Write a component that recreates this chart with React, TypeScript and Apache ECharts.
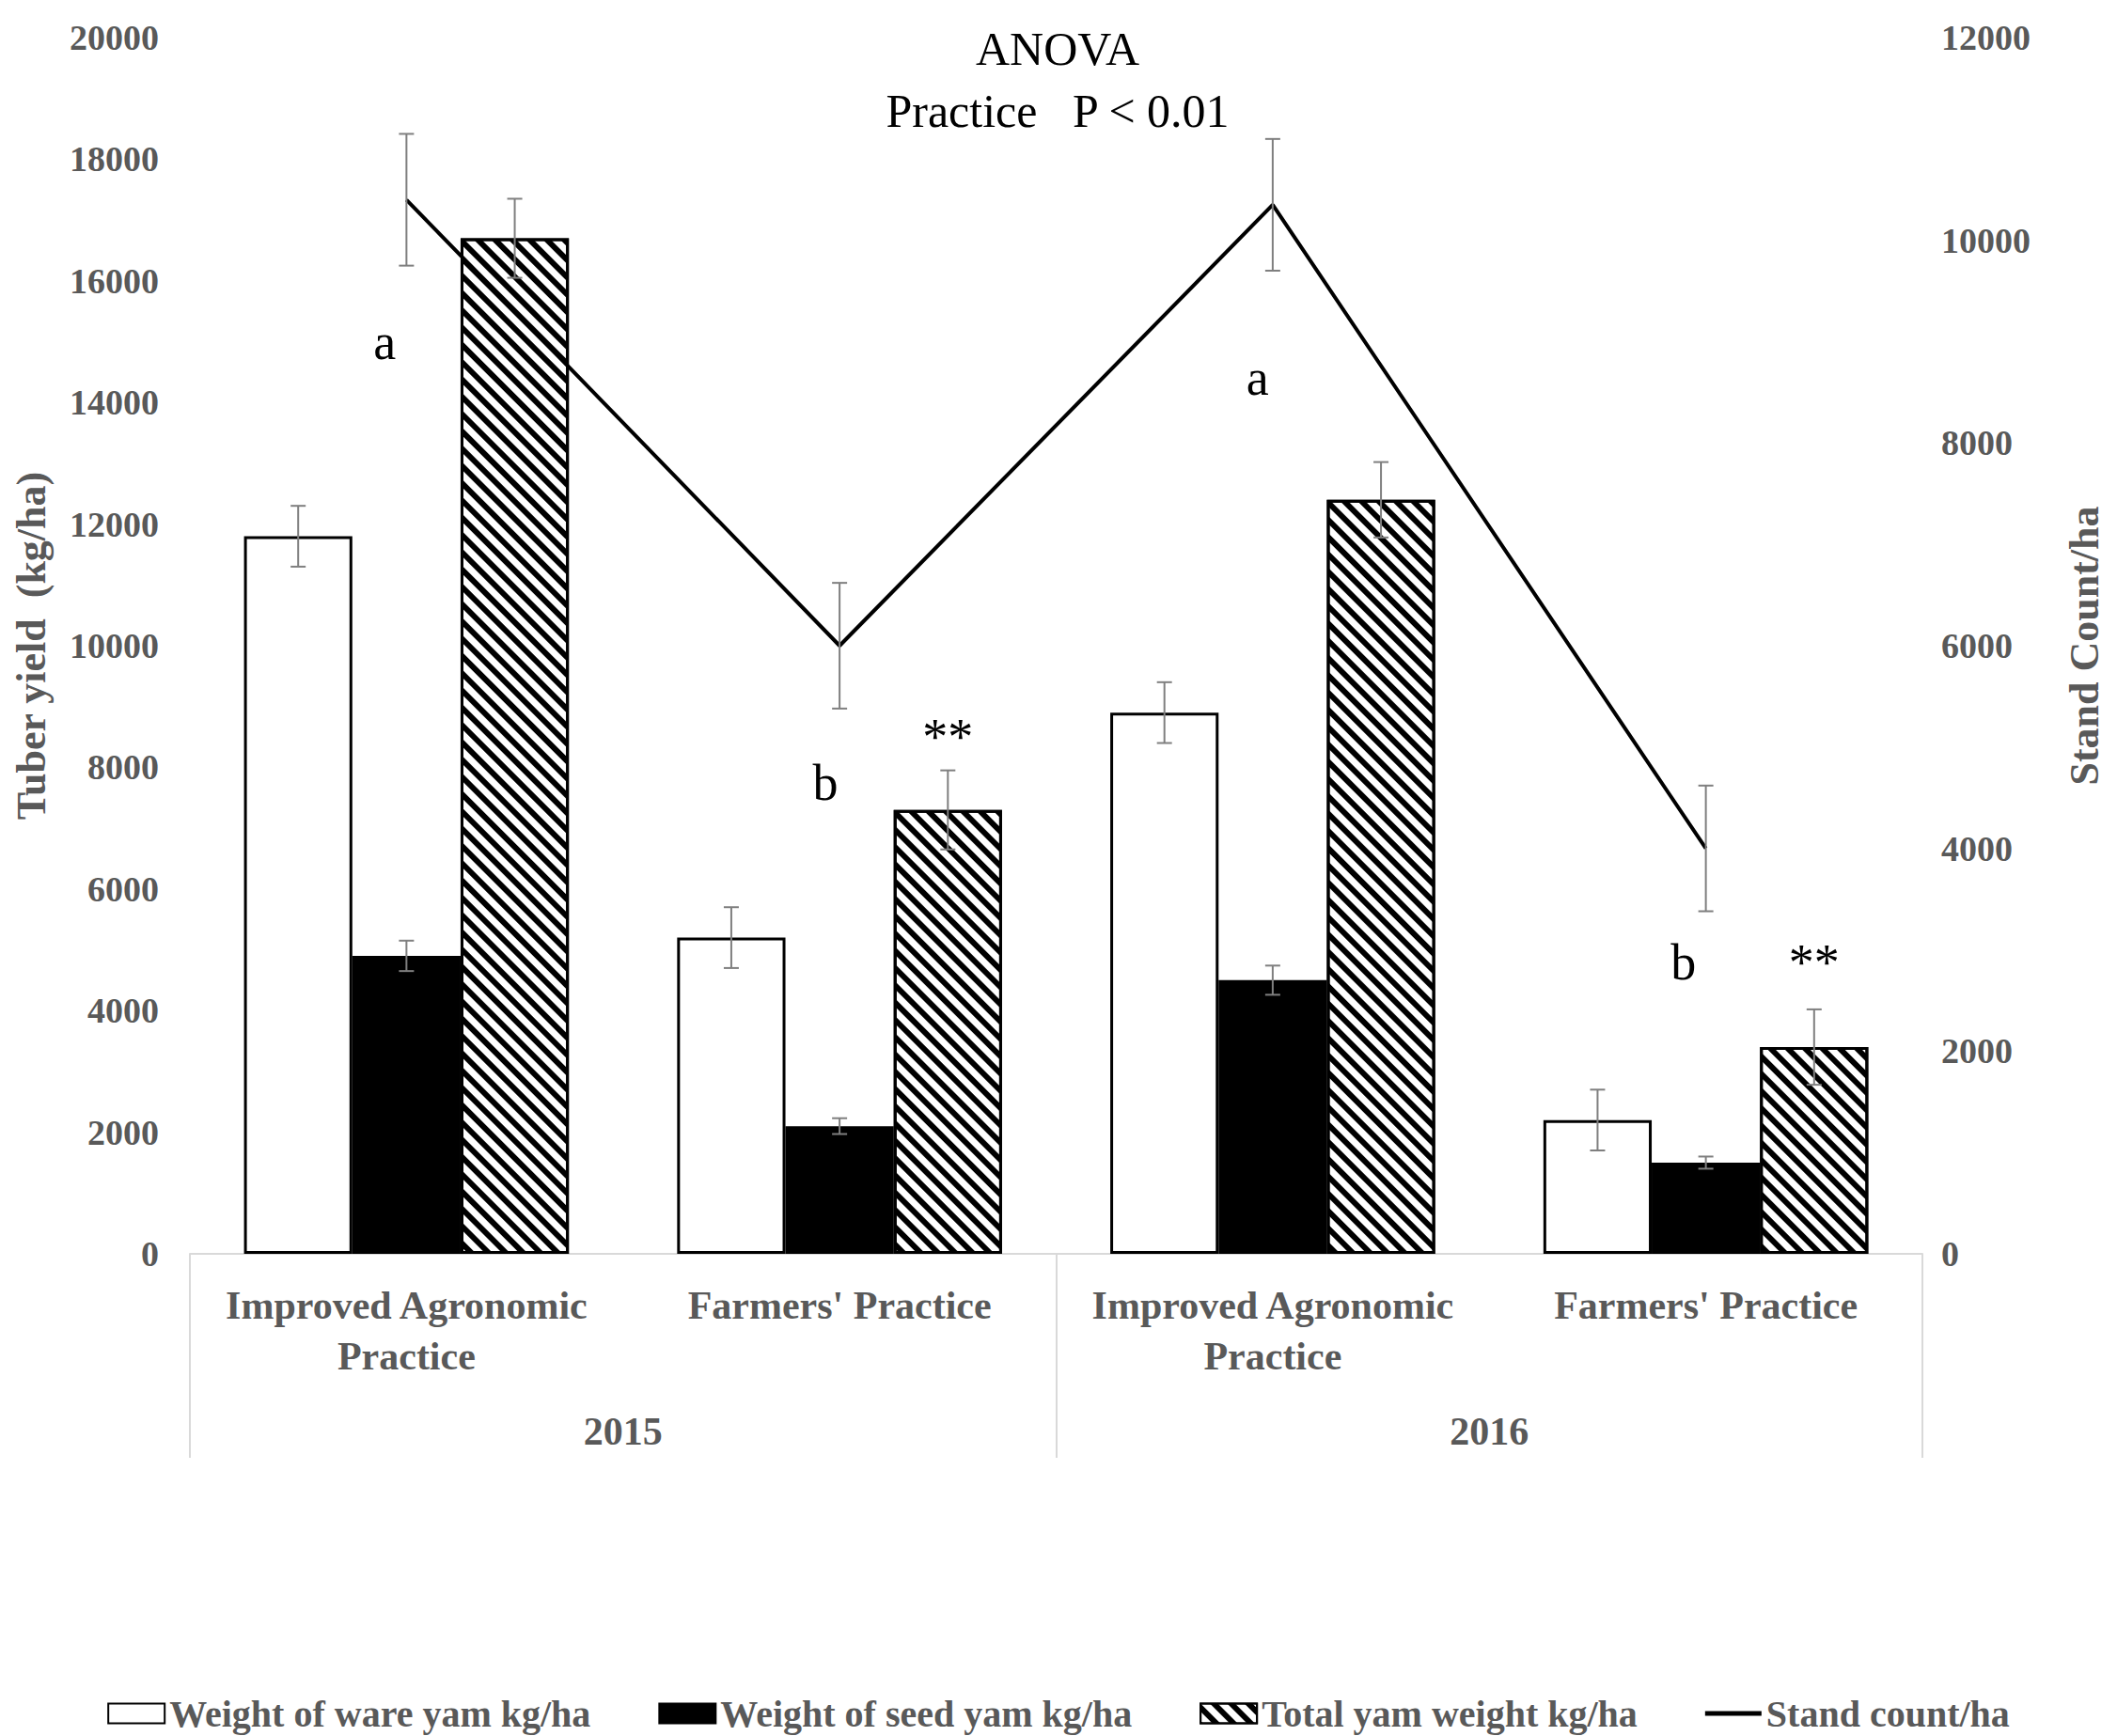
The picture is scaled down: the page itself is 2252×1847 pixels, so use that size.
import React, { useEffect, useRef } from "react";
import * as echarts from "echarts";

const FONT = "'Liberation Serif', 'Times New Roman', serif";
const GRAY = "#595959";
const LIGHT = "#d9d9d9";

// ---- data ----
const categories = [
  "Improved Agronomic\nPractice",
  "Farmers' Practice",
  "Improved Agronomic\nPractice",
  "Farmers' Practice",
];
const years = ["2015", "2016"];

const wareYam = [11800, 5200, 8900, 2200];
const wareErr = [500, 500, 500, 500];
const seedYam = [4900, 2100, 4500, 1500];
const seedErr = [250, 130, 240, 100];
const totalYam = [16700, 7300, 12400, 3400];
const totalErr = [650, 650, 620, 620];
const standCount = [10400, 6000, 10350, 4000];
const standErr = [650, 620, 650, 620];

const annotText = ["a", "b", "**", "a", "b", "**"];
const annotCat = [0, 1, 1, 2, 3, 3];
const annotValue = [15000, 7740, 8500, 14400, 4790, 4790];

// layout (fraction of category band, horizontal shift)
const annotShift = [-0.05, -0.033, 0.25, -0.035, -0.052, 0.25];
const barShift = [-0.25, 0, 0.25];

const seriesNames = [
  "Weight of ware yam kg/ha",
  "Weight of seed yam kg/ha",
  "Total yam weight kg/ha",
  "Stand count/ha",
];

function errData(vals: number[], errs: number[], shift: number) {
  return vals.map((v, i) => [i, v, errs[i], shift]);
}

function errRender(params: any, api: any) {
  const cat = api.value(0);
  const val = api.value(1);
  const err = api.value(2);
  const shift = api.value(3);
  const band = api.size([1, 0])[0];
  const x = api.coord([cat, val])[0] + shift * band;
  const yT = api.coord([cat, val + err])[1];
  const yB = api.coord([cat, val - err])[1];
  const cap = 8;
  const st = { stroke: "#7f7f7f", lineWidth: 2 };
  return {
    type: "group",
    children: [
      { type: "line", shape: { x1: x, y1: yT, x2: x, y2: yB }, style: st },
      { type: "line", shape: { x1: x - cap, y1: yT, x2: x + cap, y2: yT }, style: st },
      { type: "line", shape: { x1: x - cap, y1: yB, x2: x + cap, y2: yB }, style: st },
    ],
  };
}

export default function App() {
  const ref = useRef<HTMLDivElement>(null);
  useEffect(() => {
    if (!ref.current) return;
    const chart = echarts.init(ref.current, undefined, { renderer: "svg" });
    const axisLabelStyle = {
      fontFamily: FONT,
      fontWeight: "bold" as const,
      color: GRAY,
    };
    const plain = (v: number) => String(v);
    const option: any = {
      animation: false,
      backgroundColor: "#fff",
      title: {
        text: "ANOVA\nPractice   P < 0.01",
        left: 1120,
        top: 14,
        textAlign: "center",
        textStyle: {
          fontFamily: FONT,
          fontWeight: "normal",
          fontSize: 50,
          lineHeight: 66,
          color: "#000",
        },
      },
      legend: {
        data: [
          { name: seriesNames[0], icon: "rect" },
          { name: seriesNames[1], icon: "rect" },
          { name: seriesNames[2], icon: "rect" },
          { name: seriesNames[3], icon: "path://M0,0L60,0L60,5L0,5Z" },
        ],
        left: "center",
        top: 1798,
        itemWidth: 60,
        itemHeight: 21,
        itemGap: 72,
        textStyle: { ...axisLabelStyle, fontSize: 40 },
      },
      grid: { left: 202, right: 207, top: 40, bottom: 513, containLabel: false },
      xAxis: [
        {
          type: "category",
          data: categories,
          position: "bottom",
          axisLine: { show: true, lineStyle: { color: LIGHT, width: 2 } },
          axisTick: { show: false },
          axisLabel: {
            ...axisLabelStyle,
            interval: 0,
            fontSize: 42,
            lineHeight: 54,
            margin: 28,
          },
        },
        {
          type: "category",
          data: years,
          position: "bottom",
          offset: 0,
          axisLine: { show: false },
          axisTick: {
            show: true,
            length: 217,
            alignWithLabel: false,
            interval: 0,
            lineStyle: { color: LIGHT, width: 2 },
          },
          axisLabel: {
            ...axisLabelStyle,
            interval: 0,
            fontSize: 42,
            lineHeight: 54,
            margin: 162,
          },
        },
      ],
      yAxis: [
        {
          type: "value",
          min: 0,
          max: 20000,
          interval: 2000,
          position: "left",
          name: "Tuber yield  (kg/ha)",
          nameLocation: "middle",
          nameRotate: 90,
          nameGap: 147,
          nameTextStyle: { ...axisLabelStyle, fontSize: 44 },
          axisLine: { show: false },
          axisTick: { show: false },
          splitLine: { show: false },
          axisLabel: { ...axisLabelStyle, fontSize: 38, margin: 33, formatter: plain },
        },
        {
          type: "value",
          min: 0,
          max: 12000,
          interval: 2000,
          position: "right",
          name: "Stand Count/ha",
          nameLocation: "middle",
          nameRotate: 90,
          nameGap: 150,
          nameTextStyle: { ...axisLabelStyle, fontSize: 44 },
          axisLine: { show: false },
          axisTick: { show: false },
          splitLine: { show: false },
          axisLabel: { ...axisLabelStyle, fontSize: 38, margin: 20, formatter: plain },
        },
      ],
      series: [
        {
          name: seriesNames[0],
          type: "bar",
          data: wareYam,
          barGap: "0%",
          barCategoryGap: "25%",
          itemStyle: { color: "#ffffff", borderColor: "#000", borderWidth: 3 },
        },
        {
          name: seriesNames[1],
          type: "bar",
          data: seedYam,
          barGap: "0%",
          barCategoryGap: "25%",
          itemStyle: { color: "#000000", borderColor: "#000", borderWidth: 3 },
        },
        {
          name: seriesNames[2],
          type: "bar",
          data: totalYam,
          barGap: "0%",
          barCategoryGap: "25%",
          itemStyle: {
            color: "#ffffff",
            borderColor: "#000",
            borderWidth: 3,
            decal: {
              symbol: "rect",
              symbolSize: 1,
              color: "#000",
              dashArrayX: [1, 0],
              dashArrayY: [6, 7],
              rotation: Math.PI / 4,
            },
          },
        },
        {
          name: "err0",
          type: "custom",
          renderItem: errRender,
          data: errData(wareYam, wareErr, barShift[0]),
          encode: { x: 0, y: 1 },
          silent: true,
          z: 3,
        },
        {
          name: "err1",
          type: "custom",
          renderItem: errRender,
          data: errData(seedYam, seedErr, barShift[1]),
          encode: { x: 0, y: 1 },
          silent: true,
          z: 3,
        },
        {
          name: "err2",
          type: "custom",
          renderItem: errRender,
          data: errData(totalYam, totalErr, barShift[2]),
          encode: { x: 0, y: 1 },
          silent: true,
          z: 3,
        },
        {
          name: seriesNames[3],
          type: "line",
          yAxisIndex: 1,
          data: standCount,
          symbol: "none",
          showSymbol: false,
          color: "#000",
          lineStyle: { color: "#000", width: 4 },
          z: 4,
        },
        {
          name: "err3",
          type: "custom",
          yAxisIndex: 1,
          renderItem: errRender,
          data: errData(standCount, standErr, 0),
          encode: { x: 0, y: 1 },
          silent: true,
          z: 5,
        },
        {
          name: "annot",
          type: "custom",
          silent: true,
          z: 6,
          data: annotText.map((t, i) => [annotCat[i], annotValue[i], annotShift[i]]),
          encode: { x: 0, y: 1 },
          renderItem: (params: any, api: any) => {
            const i = params.dataIndex;
            const band = api.size([1, 0])[0];
            const p = api.coord([api.value(0), api.value(1)]);
            return {
              type: "text",
              x: p[0] + api.value(2) * band,
              y: p[1],
              style: {
                text: annotText[i],
                fontFamily: FONT,
                fontSize: 54,
                fill: "#000",
                align: "center",
                verticalAlign: "middle",
              },
            };
          },
        },
      ],
    };
    chart.setOption(option);
    return () => chart.dispose();
  }, []);
  return (
    <div
      ref={ref}
      style={{ position: "absolute", left: 0, top: 0, width: 2252, height: 1847 }}
    />
  );
}
